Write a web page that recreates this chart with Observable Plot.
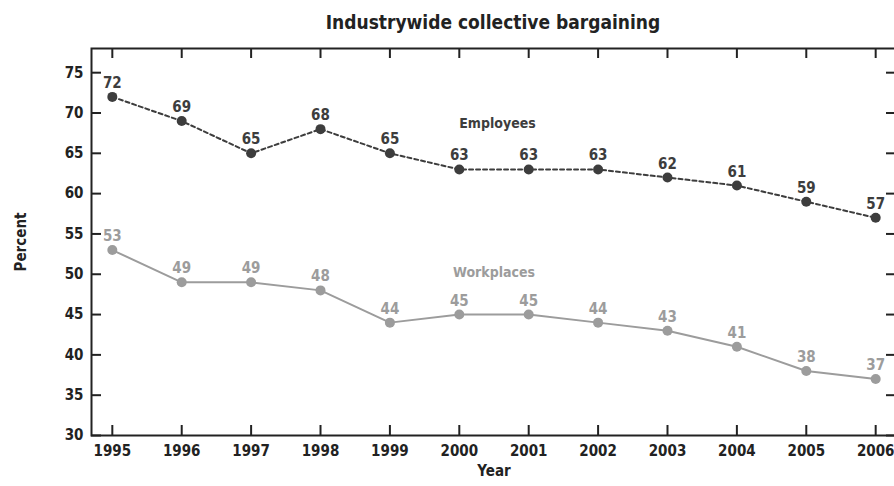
<!DOCTYPE html>
<html>
<head>
<meta charset="utf-8">
<script src="https://cdn.jsdelivr.net/npm/d3@7"></script>
<script src="https://cdn.jsdelivr.net/npm/@observablehq/plot@0.6"></script>
<style>
  html, body { margin: 0; padding: 0; background: #fff; overflow: hidden; }
  #wrap { position: relative; width: 894px; height: 486px; overflow: hidden; font-family: "DejaVu Sans Condensed", "DejaVu Sans", sans-serif; }
  #title { position: absolute; left: 91px; width: 804px; top: 0; height: 40px; line-height: 44px; text-align: center; font-size: 19px; font-weight: bold; color: #222; }
  #chart { position: absolute; left: 0; top: 40px; }
</style>
</head>
<body>
<div id="wrap">
  <div id="title">Industrywide collective bargaining</div>
  <div id="chart"></div>
</div>
<script>
const years = [1995, 1996, 1997, 1998, 1999, 2000, 2001, 2002, 2003, 2004, 2005, 2006];
const employees = [72, 69, 65, 68, 65, 63, 63, 63, 62, 61, 59, 57];
const workplaces = [53, 49, 49, 48, 44, 45, 45, 44, 43, 41, 38, 37];
const yTicks = [30, 35, 40, 45, 50, 55, 60, 65, 70, 75];
const seriesLabels = [
  {name: "Employees", year: 2000.55, value: 68.7},
  {name: "Workplaces", year: 2000.5, value: 50.2}
];

const dark = "#3d3d3d";
const light = "#9c9c9c";
const axisColor = "#222";
const tickColor = "#222";

const emp = years.map((y, i) => ({year: y, value: employees[i]}));
const wrk = years.map((y, i) => ({year: y, value: workplaces[i]}));

const font = "DejaVu Sans Condensed, DejaVu Sans, sans-serif";
const W = 897, H = 446, mT = 8, mB = 51, mL = 91, mR = 1;
const innerW = W - mL - mR, innerH = H - mT - mB;
const tickLen = 10; // inward tick length

const chart = Plot.plot({
  width: W,
  height: H,
  marginTop: mT,
  marginBottom: mB,
  marginLeft: mL,
  marginRight: mR,
  style: {fontFamily: font, fontSize: "15px", fontWeight: "bold", color: axisColor, background: "#fff", overflow: "visible", maxWidth: "none"},
  x: {domain: [1994.7, 2006.3]},
  y: {domain: [30, 78]},
  marks: [
    Plot.axisX({ticks: years, tickSize: 0, tickPadding: 10, tickFormat: d => String(d), label: "Year", labelAnchor: "center", labelArrow: "none", labelOffset: 40, fontSize: 15}),
    Plot.axisY({ticks: yTicks, tickSize: 0, tickPadding: 8, label: "Percent", labelAnchor: "center", labelArrow: "none", labelOffset: 76, fontSize: 15}),
    Plot.tickX(years, {x: d => d, insetTop: innerH - tickLen, stroke: tickColor, strokeWidth: 2}),
    Plot.tickX(years, {x: d => d, insetBottom: innerH - tickLen, stroke: tickColor, strokeWidth: 2}),
    Plot.tickY(yTicks, {y: d => d, insetRight: innerW - tickLen, stroke: tickColor, strokeWidth: 2}),
    Plot.tickY(yTicks, {y: d => d, insetLeft: innerW - tickLen, stroke: tickColor, strokeWidth: 2}),
    Plot.frame({stroke: axisColor, strokeWidth: 2}),
    Plot.line(wrk, {x: "year", y: "value", stroke: light, strokeWidth: 2}),
    Plot.dot(wrk, {x: "year", y: "value", r: 5, fill: light}),
    Plot.text(wrk, {x: "year", y: "value", text: d => String(d.value), fill: light, lineAnchor: "bottom", dy: -9, fontSize: 15}),
    Plot.line(emp, {x: "year", y: "value", stroke: dark, strokeWidth: 2, strokeDasharray: "4,3"}),
    Plot.dot(emp, {x: "year", y: "value", r: 5, fill: dark}),
    Plot.text(emp, {x: "year", y: "value", text: d => String(d.value), fill: dark, lineAnchor: "bottom", dy: -9, fontSize: 15}),
    Plot.text(seriesLabels, {x: "year", y: "value", text: "name", fill: (d) => d.name === "Employees" ? dark : light, fontSize: 14})
  ]
});
document.getElementById("chart").appendChild(chart);
</script>
</body>
</html>
